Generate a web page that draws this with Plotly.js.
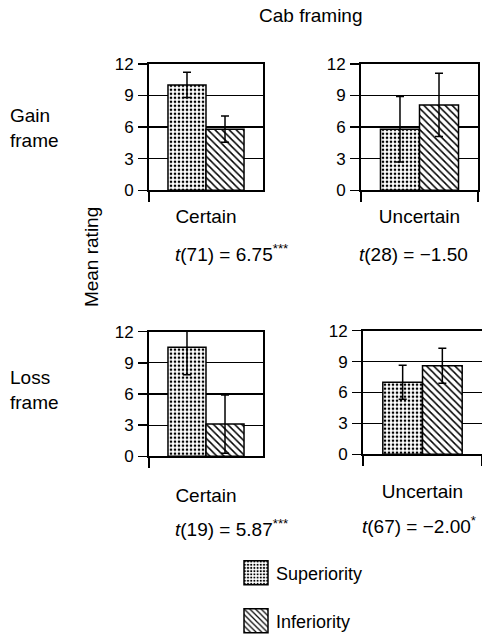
<!DOCTYPE html>
<html>
<head>
<meta charset="utf-8">
<script src="https://cdn.plot.ly/plotly-3.0.1.min.js"></script>
<style>html,body{margin:0;padding:0;background:#fff}#chart{width:482px;height:640px}</style>
</head>
<body>
<div id="chart"></div>
<script>
// ---- data ----
const seriesNames = ["Superiority", "Inferiority"];
const gainCertainCat = ["Certain"];
const gainUncertainCat = ["Uncertain"];
const lossCertainCat = ["Certain"];
const lossUncertainCat = ["Uncertain"];
// mean ratings [Superiority, Inferiority]
const gainCertain = [10.0, 5.8];
const gainUncertain = [5.8, 8.1];
const lossCertain = [10.5, 3.1];
const lossUncertain = [7.0, 8.6];
// error bar half-widths [Superiority, Inferiority]
const gainCertainErr = [1.2, 1.25];
const gainUncertainErr = [3.1, 3.0];
const lossCertainErr = [2.65, 2.8];
const lossUncertainErr = [1.65, 1.7];
const yTicks = [0, 3, 6, 9, 12];
const tStats = ["<i>t</i>(71) = 6.75<sup>***</sup>", "<i>t</i>(28) = \u22121.50",
                "<i>t</i>(19) = 5.87<sup>***</sup>", "<i>t</i>(67) = \u22122.00<sup>*</sup>"];

const FONT = "Liberation Sans, Arial, sans-serif";
const patterns = [
  {shape: ".", size: 4, solidity: 0.35, fgcolor: "black", bgcolor: "white"},
  {shape: "\\", size: 5, solidity: 0.3, fgcolor: "black", bgcolor: "white"}
];

const panels = [
  {cat: gainCertainCat, vals: gainCertain, err: gainCertainErr, xa: "x", ya: "y"},
  {cat: gainUncertainCat, vals: gainUncertain, err: gainUncertainErr, xa: "x2", ya: "y2"},
  {cat: lossCertainCat, vals: lossCertain, err: lossCertainErr, xa: "x3", ya: "y3"},
  {cat: lossUncertainCat, vals: lossUncertain, err: lossUncertainErr, xa: "x4", ya: "y4"}
];

const traces = [];
panels.forEach((p, pi) => {
  seriesNames.forEach((name, si) => {
    traces.push({
      type: "bar",
      name: name,
      x: p.cat,
      y: [p.vals[si]],
      xaxis: p.xa, yaxis: p.ya,
      marker: {color: "white", line: {color: "black", width: 1.5}, pattern: patterns[si]},
      error_y: {type: "data", array: [p.err[si]], visible: true, color: "black", thickness: 1.5, width: 4},
      showlegend: pi === 0,
      legend: si === 0 ? "legend" : "legend2"
    });
  });
});

function xAx(domain, anchor, standoff) {
  return {domain: domain, anchor: anchor, type: "category", range: [-0.5, 0.5],
    showline: true, linecolor: "black", linewidth: 2, mirror: true,
    ticks: "outside", tickson: "boundaries", ticklen: 10, tickwidth: 2, tickcolor: "black",
    showgrid: false, zeroline: false, ticklabelstandoff: standoff,
    tickfont: {family: FONT, size: 19, color: "black"}, fixedrange: true};
}
function yAx(domain, anchor) {
  return {domain: domain, anchor: anchor, range: [0, 12], tickvals: yTicks, ticktext: yTicks.map(String),
    showline: true, linecolor: "black", linewidth: 2, mirror: true,
    ticks: "outside", ticklen: 9, tickwidth: 1.5, tickcolor: "black", ticklabelstandoff: 1,
    showgrid: true, gridcolor: "black", gridwidth: 1.2, zeroline: false,
    tickfont: {family: FONT, size: 17, color: "black"}, fixedrange: true};
}
const W = 482, H = 640;
const px = (a, b) => [a / W, Math.min(b / W, 1)];
const py = (top, bottom) => [1 - bottom / H, 1 - top / H];

function ann(text, x, y, opts) {
  return Object.assign({text: text, x: x / W, y: 1 - y / H, xref: "paper", yref: "paper",
    xanchor: "center", yanchor: "middle",
    showarrow: false, font: {family: FONT, size: 19, color: "black"}}, opts || {});
}

const layout = {
  width: W, height: H,
  margin: {l: 0, r: 0, t: 0, b: 0},
  paper_bgcolor: "white", plot_bgcolor: "white",
  barmode: "group", bargap: 0.333, bargroupgap: 0,
  font: {family: FONT, color: "black"},
  xaxis: xAx(px(149, 263), "y", 8),
  yaxis: yAx(py(65, 194), "x"),
  xaxis2: xAx(px(361, 478), "y2", 8),
  yaxis2: yAx(py(65, 194), "x2"),
  xaxis3: xAx(px(149, 263), "y3", 21),
  yaxis3: yAx(py(338, 465), "x3"),
  xaxis4: xAx(px(363, 482), "y4", 19),
  yaxis4: yAx(py(337, 463), "x4"),
  legend: {x: 236 / W, y: 1 - 584 / H, xanchor: "left", yanchor: "middle",
    font: {family: FONT, size: 18, color: "black"}, bgcolor: "rgba(0,0,0,0)"},
  legend2: {x: 236 / W, y: 1 - 633 / H, xanchor: "left", yanchor: "middle",
    font: {family: FONT, size: 18, color: "black"}, bgcolor: "rgba(0,0,0,0)"},
  annotations: [
    ann("Cab framing", 311, 16),
    ann("Gain<br>frame", 8, 130, {xanchor: "left", align: "left"}),
    ann("Loss<br>frame", 8, 397, {xanchor: "left", align: "left"}),
    ann("Mean rating", 91, 262, {textangle: -90}),
    ann(tStats[0], 173, 258, {xanchor: "left"}),
    ann(tStats[1], 357, 259, {xanchor: "left"}),
    ann(tStats[2], 173, 538, {xanchor: "left"}),
    ann(tStats[3], 360, 535, {xanchor: "left"})
  ]
};

Plotly.newPlot("chart", traces, layout, {staticPlot: true, displayModeBar: false}).then(gd => {
  // enlarge legend swatches to match the reference's larger pattern boxes
  gd.querySelectorAll(".legendpoints path").forEach(p => {
    p.setAttribute("d", "M12,12H-12V-12H12Z");
  });
});
</script>
</body>
</html>
